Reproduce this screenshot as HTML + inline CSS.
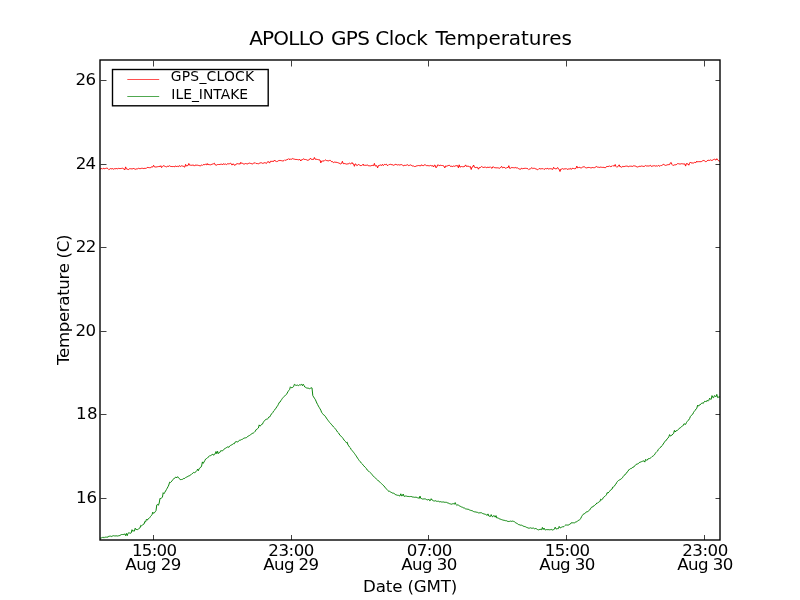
<!DOCTYPE html>
<html><head><meta charset="utf-8"><title>APOLLO GPS Clock Temperatures</title>
<style>
html,body{margin:0;padding:0;background:#fff;}
svg{display:block;}
text{font-family:"DejaVu Sans","Liberation Sans",sans-serif;fill:#000;}
.tk{font-size:16.67px;}
.lg{font-size:13.89px;}
.ti{font-size:20px;}
</style></head><body>
<svg width="800" height="600" viewBox="0 0 800 600">
<rect x="0" y="0" width="800" height="600" fill="#ffffff"/>
<defs><clipPath id="ax"><rect x="100" y="60" width="620" height="480"/></clipPath></defs>

<g clip-path="url(#ax)" fill="none" stroke-linejoin="round" stroke-width="0.95">
<path d="M100 169.0 L100.8 169.0 L101.6 168.2 L102.4 169.2 L103.2 168.4 L104 168.3 L104.8 168.8 L105.6 168.4 L106.4 168.2 L107.2 168.2 L108 168.7 L108.8 169.6 L109.6 169.2 L110.4 168.6 L111.2 168.9 L112 168.6 L112.8 168.7 L113.6 169.2 L114.4 168.7 L115.2 168.8 L116 168.5 L116.8 168.6 L117.6 168.8 L118.4 168.4 L119.2 168.5 L120 168.6 L120.8 168.5 L121.6 168.4 L122.4 168.2 L123.2 168.7 L124 168.9 L124.8 169.9 L125.6 166.9 L126.4 168.9 L127.2 169.1 L128 169.5 L128.8 169.4 L129.6 168.7 L130.4 168.7 L131.2 168.9 L132 168.7 L132.8 169.0 L133.6 168.1 L134.4 169.0 L135.2 169.4 L136 168.9 L136.8 168.9 L137.6 168.8 L138.4 168.3 L139.2 168.5 L140 168.8 L140.8 168.5 L141.6 168.3 L142.4 168.3 L143.2 168.4 L144 168.8 L144.8 168.2 L145.6 168.4 L146.4 168.3 L147.2 167.4 L148 167.5 L148.8 167.6 L149.6 167.7 L150.4 167.8 L151.2 166.9 L152 167.1 L152.8 166.9 L153.6 165.3 L154.4 166.8 L155.2 167.1 L156 166.7 L156.8 167.0 L157.6 166.7 L158.4 166.6 L159.2 166.2 L160 166.9 L160.8 165.7 L161.6 167.6 L162.4 166.5 L163.2 165.7 L164 166.0 L164.8 166.2 L165.6 166.6 L166.4 166.9 L167.2 166.5 L168 165.9 L168.8 166.6 L169.6 165.6 L170.4 166.4 L171.2 166.5 L172 166.5 L172.8 166.6 L173.6 166.5 L174.4 166.9 L175.2 165.9 L176 166.5 L176.8 166.5 L177.6 166.3 L178.4 166.7 L179.2 165.6 L180 166.3 L180.8 166.4 L181.6 165.8 L182.4 166.1 L183.2 165.9 L184 166.9 L184.8 167.1 L185.6 164.4 L186.4 166.0 L187.2 165.7 L188 165.6 L188.8 163.5 L189.6 165.2 L190.4 165.2 L191.2 165.3 L192 165.2 L192.8 165.1 L193.6 165.0 L194.4 166.1 L195.2 165.2 L196 164.9 L196.8 165.3 L197.6 165.2 L198.4 165.4 L199.2 165.6 L200 165.8 L200.8 165.7 L201.6 165.0 L202.4 165.4 L203.2 164.6 L204 164.7 L204.8 164.6 L205.6 164.3 L206.4 164.8 L207.2 163.5 L208 165.0 L208.8 164.3 L209.6 164.7 L210.4 164.8 L211.2 164.7 L212 164.0 L212.8 164.1 L213.6 163.7 L214.4 163.2 L215.2 164.9 L216 164.9 L216.8 165.2 L217.6 164.5 L218.4 164.5 L219.2 164.5 L220 164.5 L220.8 164.2 L221.6 164.0 L222.4 164.9 L223.2 163.8 L224 164.0 L224.8 164.4 L225.6 164.0 L226.4 164.6 L227.2 164.0 L228 163.5 L228.8 164.0 L229.6 163.7 L230.4 163.3 L231.2 163.6 L232 165.1 L232.8 163.9 L233.6 164.0 L234.4 165.3 L235.2 164.8 L236 164.8 L236.8 163.5 L237.6 163.7 L238.4 163.9 L239.2 163.6 L240 164.3 L240.8 162.3 L241.6 163.4 L242.4 163.3 L243.2 163.8 L244 164.1 L244.8 163.9 L245.6 163.5 L246.4 163.7 L247.2 163.9 L248 163.9 L248.8 163.1 L249.6 163.1 L250.4 163.4 L251.2 163.6 L252 163.8 L252.8 163.9 L253.6 163.2 L254.4 163.0 L255.2 162.7 L256 163.6 L256.8 163.5 L257.6 163.6 L258.4 163.8 L259.2 163.4 L260 162.9 L260.8 162.8 L261.6 162.8 L262.4 163.3 L263.2 163.4 L264 162.6 L264.8 162.8 L265.6 162.9 L266.4 163.5 L267.2 162.2 L268 161.5 L268.8 161.9 L269.6 163.1 L270.4 161.3 L271.2 161.3 L272 161.5 L272.8 161.3 L273.6 161.5 L274.4 160.1 L275.2 161.1 L276 160.9 L276.8 161.7 L277.6 161.3 L278.4 160.7 L279.2 160.7 L280 160.1 L280.8 160.7 L281.6 160.7 L282.4 160.9 L283.2 160.9 L284 160.6 L284.8 159.8 L285.6 160.4 L286.4 159.9 L287.2 159.5 L288 159.4 L288.8 158.6 L289.6 159.8 L290.4 159.0 L291.2 159.3 L292 159.0 L292.8 158.5 L293.6 159.0 L294.4 159.2 L295.2 159.3 L296 159.7 L296.8 159.4 L297.6 159.6 L298.4 159.8 L299.2 159.6 L300 159.5 L300.8 161.0 L301.6 159.7 L302.4 159.7 L303.2 158.8 L304 159.2 L304.8 159.5 L305.6 159.5 L306.4 159.7 L307.2 160.3 L308 160.0 L308.8 160.0 L309.6 159.5 L310.4 158.2 L311.2 159.3 L312 159.2 L312.8 159.5 L313.6 159.4 L314.4 157.5 L315.2 159.3 L316 159.1 L316.8 159.4 L317.6 159.5 L318.4 159.7 L319.2 159.8 L320 160.0 L320.8 162.9 L321.6 161.1 L322.4 161.1 L323.2 160.7 L324 161.3 L324.8 160.4 L325.6 159.9 L326.4 160.5 L327.2 160.7 L328 160.7 L328.8 160.9 L329.6 160.4 L330.4 160.4 L331.2 161.4 L332 161.9 L332.8 161.7 L333.6 162.6 L334.4 162.1 L335.2 162.1 L336 162.5 L336.8 162.3 L337.6 162.6 L338.4 162.9 L339.2 163.1 L340 163.8 L340.8 163.9 L341.6 163.4 L342.4 161.3 L343.2 163.6 L344 163.7 L344.8 163.5 L345.6 163.8 L346.4 164.1 L347.2 163.8 L348 164.2 L348.8 163.5 L349.6 163.2 L350.4 163.8 L351.2 163.7 L352 162.5 L352.8 163.9 L353.6 163.9 L354.4 166.3 L355.2 163.9 L356 164.2 L356.8 165.6 L357.6 165.3 L358.4 164.4 L359.2 164.9 L360 165.2 L360.8 165.7 L361.6 165.5 L362.4 165.1 L363.2 164.1 L364 165.7 L364.8 164.9 L365.6 165.4 L366.4 165.3 L367.2 164.9 L368 165.5 L368.8 165.8 L369.6 165.8 L370.4 165.9 L371.2 165.7 L372 165.4 L372.8 165.4 L373.6 165.6 L374.4 163.4 L375.2 166.0 L376 165.8 L376.8 165.7 L377.6 167.9 L378.4 165.6 L379.2 165.5 L380 165.0 L380.8 165.0 L381.6 165.5 L382.4 164.3 L383.2 165.6 L384 164.8 L384.8 164.3 L385.6 164.6 L386.4 164.2 L387.2 165.4 L388 165.5 L388.8 164.6 L389.6 164.5 L390.4 164.3 L391.2 164.6 L392 164.6 L392.8 164.9 L393.6 165.3 L394.4 164.9 L395.2 164.3 L396 164.7 L396.8 164.6 L397.6 165.0 L398.4 164.7 L399.2 165.0 L400 164.9 L400.8 164.7 L401.6 164.6 L402.4 164.9 L403.2 165.8 L404 165.7 L404.8 165.2 L405.6 165.4 L406.4 165.2 L407.2 164.7 L408 165.0 L408.8 165.7 L409.6 165.3 L410.4 164.9 L411.2 165.2 L412 165.9 L412.8 166.0 L413.6 166.0 L414.4 166.5 L415.2 166.5 L416 166.2 L416.8 165.8 L417.6 165.7 L418.4 165.5 L419.2 165.8 L420 165.4 L420.8 166.0 L421.6 164.7 L422.4 165.5 L423.2 165.8 L424 164.9 L424.8 164.9 L425.6 165.0 L426.4 165.6 L427.2 165.4 L428 166.0 L428.8 165.6 L429.6 165.8 L430.4 165.4 L431.2 165.9 L432 165.6 L432.8 165.8 L433.6 167.0 L434.4 165.1 L435.2 165.3 L436 167.8 L436.8 167.0 L437.6 164.9 L438.4 165.1 L439.2 165.7 L440 165.2 L440.8 165.3 L441.6 165.5 L442.4 165.5 L443.2 165.7 L444 166.2 L444.8 167.9 L445.6 165.9 L446.4 166.2 L447.2 166.0 L448 165.6 L448.8 165.4 L449.6 165.3 L450.4 166.4 L451.2 166.2 L452 166.4 L452.8 166.5 L453.6 166.0 L454.4 166.3 L455.2 166.1 L456 165.4 L456.8 165.8 L457.6 165.7 L458.4 167.8 L459.2 164.8 L460 167.2 L460.8 166.7 L461.6 166.5 L462.4 166.7 L463.2 166.7 L464 166.7 L464.8 166.3 L465.6 164.9 L466.4 166.4 L467.2 166.2 L468 166.3 L468.8 166.2 L469.6 167.0 L470.4 166.5 L471.2 169.5 L472 167.1 L472.8 166.8 L473.6 165.0 L474.4 167.2 L475.2 167.7 L476 167.2 L476.8 167.5 L477.6 167.4 L478.4 169.2 L479.2 167.6 L480 167.9 L480.8 167.0 L481.6 166.5 L482.4 167.1 L483.2 167.3 L484 167.7 L484.8 167.0 L485.6 167.0 L486.4 167.8 L487.2 167.2 L488 167.6 L488.8 167.3 L489.6 167.3 L490.4 166.9 L491.2 167.7 L492 168.4 L492.8 166.8 L493.6 166.9 L494.4 167.7 L495.2 167.7 L496 167.9 L496.8 167.8 L497.6 167.8 L498.4 167.9 L499.2 168.3 L500 168.0 L500.8 167.3 L501.6 166.3 L502.4 167.9 L503.2 167.4 L504 167.6 L504.8 167.4 L505.6 168.4 L506.4 168.1 L507.2 167.3 L508 167.8 L508.8 165.7 L509.6 168.3 L510.4 168.3 L511.2 167.6 L512 167.7 L512.8 167.6 L513.6 167.7 L514.4 167.8 L515.2 167.4 L516 168.0 L516.8 167.9 L517.6 167.9 L518.4 168.5 L519.2 169.2 L520 168.7 L520.8 169.3 L521.6 168.2 L522.4 168.7 L523.2 168.5 L524 168.5 L524.8 168.3 L525.6 168.3 L526.4 168.4 L527.2 168.5 L528 168.8 L528.8 169.6 L529.6 169.0 L530.4 168.8 L531.2 168.2 L532 167.6 L532.8 168.7 L533.6 168.3 L534.4 168.3 L535.2 168.6 L536 169.1 L536.8 169.2 L537.6 169.7 L538.4 169.3 L539.2 168.5 L540 168.8 L540.8 168.9 L541.6 168.7 L542.4 168.7 L543.2 168.6 L544 169.5 L544.8 169.0 L545.6 168.5 L546.4 168.8 L547.2 168.3 L548 168.8 L548.8 169.0 L549.6 168.7 L550.4 168.7 L551.2 168.6 L552 169.4 L552.8 169.3 L553.6 167.3 L554.4 168.4 L555.2 168.7 L556 168.8 L556.8 168.6 L557.6 167.5 L558.4 168.9 L559.2 169.3 L560 171.5 L560.8 169.1 L561.6 169.1 L562.4 168.6 L563.2 169.1 L564 169.1 L564.8 168.8 L565.6 168.8 L566.4 168.6 L567.2 169.5 L568 168.9 L568.8 169.0 L569.6 168.9 L570.4 168.4 L571.2 169.5 L572 168.3 L572.8 168.4 L573.6 168.5 L574.4 168.7 L575.2 168.7 L576 168.3 L576.8 166.1 L577.6 167.9 L578.4 167.6 L579.2 167.2 L580 167.8 L580.8 167.8 L581.6 167.8 L582.4 167.2 L583.2 167.0 L584 166.5 L584.8 167.1 L585.6 167.7 L586.4 167.9 L587.2 167.8 L588 167.3 L588.8 167.5 L589.6 167.5 L590.4 167.8 L591.2 167.9 L592 167.6 L592.8 167.5 L593.6 167.7 L594.4 167.7 L595.2 167.4 L596 166.6 L596.8 166.6 L597.6 167.2 L598.4 167.2 L599.2 167.5 L600 167.2 L600.8 167.1 L601.6 167.3 L602.4 167.4 L603.2 167.3 L604 167.5 L604.8 167.6 L605.6 167.7 L606.4 166.6 L607.2 166.5 L608 166.5 L608.8 166.4 L609.6 165.9 L610.4 166.7 L611.2 166.3 L612 166.4 L612.8 165.6 L613.6 165.9 L614.4 166.1 L615.2 164.5 L616 166.5 L616.8 167.3 L617.6 166.6 L618.4 166.2 L619.2 164.8 L620 166.9 L620.8 166.5 L621.6 167.4 L622.4 166.4 L623.2 166.4 L624 166.9 L624.8 166.3 L625.6 166.2 L626.4 166.1 L627.2 166.1 L628 166.5 L628.8 166.7 L629.6 166.2 L630.4 166.2 L631.2 166.1 L632 166.5 L632.8 166.3 L633.6 165.8 L634.4 165.9 L635.2 166.0 L636 166.4 L636.8 166.8 L637.6 167.0 L638.4 166.7 L639.2 166.3 L640 166.4 L640.8 166.3 L641.6 166.0 L642.4 166.2 L643.2 166.3 L644 166.6 L644.8 166.1 L645.6 165.5 L646.4 166.0 L647.2 165.8 L648 166.3 L648.8 165.9 L649.6 165.8 L650.4 165.3 L651.2 166.4 L652 166.1 L652.8 166.0 L653.6 165.8 L654.4 165.7 L655.2 166.1 L656 166.0 L656.8 165.8 L657.6 166.2 L658.4 165.4 L659.2 165.9 L660 166.3 L660.8 165.4 L661.6 165.5 L662.4 165.0 L663.2 164.4 L664 164.5 L664.8 165.1 L665.6 165.4 L666.4 165.2 L667.2 164.8 L668 164.8 L668.8 164.6 L669.6 164.6 L670.4 162.9 L671.2 162.5 L672 164.5 L672.8 165.4 L673.6 165.3 L674.4 164.9 L675.2 164.8 L676 164.8 L676.8 164.3 L677.6 163.6 L678.4 163.7 L679.2 163.9 L680 164.1 L680.8 163.9 L681.6 163.7 L682.4 163.8 L683.2 163.9 L684 164.1 L684.8 163.9 L685.6 166.1 L686.4 163.5 L687.2 163.9 L688 163.8 L688.8 165.2 L689.6 163.3 L690.4 162.0 L691.2 162.9 L692 163.2 L692.8 162.9 L693.6 163.0 L694.4 162.4 L695.2 162.5 L696 162.6 L696.8 161.1 L697.6 162.0 L698.4 161.7 L699.2 161.7 L700 161.6 L700.8 161.7 L701.6 161.5 L702.4 160.9 L703.2 160.5 L704 160.6 L704.8 160.9 L705.6 161.7 L706.4 161.5 L707.2 160.9 L708 160.0 L708.8 160.4 L709.6 160.4 L710.4 159.9 L711.2 160.4 L712 160.3 L712.8 160.1 L713.6 159.5 L714.4 159.2 L715.2 159.6 L716 160.1 L716.8 158.7 L717.6 159.9 L718.4 160.6 L719.2 160.6 L720 161.8" stroke="#ff0000"/>
<path d="M100 538.4 L100.8 538.0 L101.6 537.8 L102.4 537.4 L103.2 537.8 L104 536.9 L104.8 537.7 L105.6 537.1 L106.4 537.2 L107.2 536.9 L108 537.3 L108.8 536.2 L109.6 536.2 L110.4 536.1 L111.2 536.6 L112 536.0 L112.8 536.0 L113.6 535.7 L114.4 535.9 L115.2 536.1 L116 535.5 L116.8 536.0 L117.6 536.0 L118.4 535.8 L119.2 535.8 L120 535.2 L120.8 535.0 L121.6 534.5 L122.4 534.5 L123.2 534.6 L124 534.2 L124.8 534.0 L125.6 535.6 L126.4 533.4 L127.2 535.7 L128 533.3 L128.8 532.8 L129.6 533.0 L130.4 533.3 L131.2 532.9 L132 529.7 L132.8 531.3 L133.6 530.8 L134.4 531.1 L135.2 528.2 L136 529.7 L136.8 529.4 L137.6 529.7 L138.4 528.9 L139.2 528.4 L140 527.9 L140.8 525.3 L141.6 525.8 L142.4 525.1 L143.2 524.5 L144 524.1 L144.8 521.5 L145.6 521.9 L146.4 519.4 L147.2 520.2 L148 518.9 L148.8 518.6 L149.6 517.8 L150.4 516.6 L151.2 515.8 L152 514.7 L152.8 512.1 L153.6 513.4 L154.4 512.8 L155.2 511.8 L156 510.6 L156.8 504.9 L157.6 504.4 L158.4 505.3 L159.2 503.0 L160 498.3 L160.8 498.6 L161.6 497.9 L162.4 497.3 L163.2 492.7 L164 493.7 L164.8 492.3 L165.6 491.0 L166.4 489.6 L167.2 488.2 L168 486.7 L168.8 485.0 L169.6 482.2 L170.4 482.5 L171.2 481.9 L172 480.9 L172.8 479.6 L173.6 479.1 L174.4 478.1 L175.2 477.7 L176 476.9 L176.8 477.9 L177.6 476.7 L178.4 477.4 L179.2 478.6 L180 479.3 L180.8 479.7 L181.6 479.5 L182.4 479.4 L183.2 478.7 L184 478.5 L184.8 478.4 L185.6 477.5 L186.4 477.2 L187.2 476.9 L188 476.1 L188.8 476.0 L189.6 475.8 L190.4 474.9 L191.2 474.6 L192 473.6 L192.8 473.3 L193.6 472.4 L194.4 472.7 L195.2 472.3 L196 471.7 L196.8 470.9 L197.6 469.1 L198.4 470.7 L199.2 468.5 L200 468.0 L200.8 467.3 L201.6 466.0 L202.4 461.9 L203.2 463.4 L204 462.0 L204.8 460.6 L205.6 459.1 L206.4 458.6 L207.2 458.2 L208 457.2 L208.8 456.7 L209.6 455.7 L210.4 455.7 L211.2 455.2 L212 454.7 L212.8 454.2 L213.6 455.3 L214.4 454.0 L215.2 453.9 L216 451.5 L216.8 453.7 L217.6 451.3 L218.4 453.5 L219.2 453.0 L220 452.1 L220.8 450.6 L221.6 450.8 L222.4 451.0 L223.2 450.1 L224 449.2 L224.8 448.6 L225.6 448.2 L226.4 447.8 L227.2 447.0 L228 446.7 L228.8 447.4 L229.6 446.1 L230.4 445.5 L231.2 445.2 L232 444.5 L232.8 444.3 L233.6 443.6 L234.4 443.7 L235.2 442.0 L236 441.6 L236.8 441.7 L237.6 442.1 L238.4 441.1 L239.2 440.5 L240 440.0 L240.8 440.1 L241.6 439.5 L242.4 439.3 L243.2 438.7 L244 438.0 L244.8 438.0 L245.6 437.8 L246.4 437.7 L247.2 436.9 L248 436.1 L248.8 435.9 L249.6 435.4 L250.4 434.8 L251.2 434.1 L252 433.8 L252.8 433.1 L253.6 432.9 L254.4 432.2 L255.2 431.4 L256 429.7 L256.8 429.3 L257.6 428.6 L258.4 428.0 L259.2 424.9 L260 426.1 L260.8 425.5 L261.6 424.4 L262.4 424.2 L263.2 422.6 L264 421.3 L264.8 420.3 L265.6 419.8 L266.4 419.0 L267.2 419.4 L268 418.3 L268.8 417.1 L269.6 417.0 L270.4 415.8 L271.2 414.2 L272 413.6 L272.8 412.5 L273.6 411.1 L274.4 410.4 L275.2 409.0 L276 408.2 L276.8 406.8 L277.6 405.8 L278.4 404.3 L279.2 402.5 L280 402.2 L280.8 400.7 L281.6 399.6 L282.4 398.4 L283.2 397.5 L284 396.7 L284.8 395.8 L285.6 395.0 L286.4 394.5 L287.2 393.1 L288 391.6 L288.8 390.4 L289.6 389.5 L290.4 386.8 L291.2 387.6 L292 387.8 L292.8 387.2 L293.6 386.6 L294.4 384.3 L295.2 385.0 L296 385.2 L296.8 385.4 L297.6 385.1 L298.4 385.7 L299.2 384.9 L300 384.8 L300.8 385.0 L301.6 384.3 L302.4 385.7 L303.2 384.2 L304 385.5 L304.8 387.0 L305.6 387.4 L306.4 387.9 L307.2 388.0 L308 388.3 L308.8 388.1 L309.6 388.9 L310.4 388.3 L311.2 387.8 L312 387.9 L312.8 395.6 L313.6 396.9 L314.4 398.2 L315.2 399.3 L316 401.1 L316.8 403.0 L317.6 404.5 L318.4 406.1 L319.2 407.4 L320 408.8 L320.8 410.2 L321.6 412.3 L322.4 413.4 L323.2 414.5 L324 415.0 L324.8 415.7 L325.6 416.8 L326.4 418.1 L327.2 419.2 L328 420.3 L328.8 421.4 L329.6 422.5 L330.4 423.2 L331.2 424.2 L332 425.1 L332.8 426.0 L333.6 427.0 L334.4 427.7 L335.2 428.7 L336 429.7 L336.8 430.9 L337.6 432.1 L338.4 432.8 L339.2 434.0 L340 435.4 L340.8 435.9 L341.6 436.7 L342.4 437.6 L343.2 438.7 L344 440.0 L344.8 440.9 L345.6 441.6 L346.4 442.8 L347.2 442.2 L348 445.0 L348.8 445.9 L349.6 447.2 L350.4 447.9 L351.2 449.5 L352 450.4 L352.8 451.4 L353.6 452.4 L354.4 453.4 L355.2 454.5 L356 455.7 L356.8 456.9 L357.6 458.2 L358.4 459.3 L359.2 460.5 L360 461.6 L360.8 462.2 L361.6 463.4 L362.4 464.1 L363.2 465.2 L364 466.0 L364.8 467.0 L365.6 467.6 L366.4 468.6 L367.2 470.0 L368 470.7 L368.8 471.3 L369.6 472.1 L370.4 472.7 L371.2 473.4 L372 474.5 L372.8 475.7 L373.6 476.3 L374.4 477.2 L375.2 477.9 L376 478.6 L376.8 479.3 L377.6 480.0 L378.4 480.9 L379.2 481.3 L380 482.3 L380.8 483.1 L381.6 483.7 L382.4 484.5 L383.2 485.2 L384 486.0 L384.8 487.1 L385.6 488.0 L386.4 488.9 L387.2 489.8 L388 490.7 L388.8 491.4 L389.6 491.3 L390.4 491.9 L391.2 492.3 L392 492.8 L392.8 493.2 L393.6 493.0 L394.4 493.9 L395.2 494.4 L396 494.9 L396.8 495.0 L397.6 495.3 L398.4 495.3 L399.2 495.8 L400 495.9 L400.8 493.8 L401.6 495.9 L402.4 495.7 L403.2 494.0 L404 496.3 L404.8 496.3 L405.6 496.0 L406.4 496.1 L407.2 496.4 L408 496.4 L408.8 496.5 L409.6 496.6 L410.4 496.5 L411.2 496.6 L412 496.5 L412.8 497.2 L413.6 497.1 L414.4 497.3 L415.2 497.1 L416 497.5 L416.8 497.3 L417.6 497.8 L418.4 497.9 L419.2 498.5 L420 496.1 L420.8 498.4 L421.6 498.6 L422.4 499.0 L423.2 498.9 L424 499.1 L424.8 498.8 L425.6 499.0 L426.4 499.5 L427.2 499.9 L428 499.9 L428.8 499.1 L429.6 500.7 L430.4 500.5 L431.2 498.7 L432 500.1 L432.8 500.3 L433.6 500.9 L434.4 501.0 L435.2 500.7 L436 500.9 L436.8 501.4 L437.6 501.3 L438.4 501.2 L439.2 501.8 L440 501.7 L440.8 501.7 L441.6 502.0 L442.4 502.0 L443.2 501.9 L444 502.2 L444.8 502.3 L445.6 502.3 L446.4 502.3 L447.2 502.8 L448 502.9 L448.8 503.3 L449.6 503.7 L450.4 503.9 L451.2 504.2 L452 504.1 L452.8 503.7 L453.6 503.7 L454.4 504.2 L455.2 502.6 L456 504.4 L456.8 505.5 L457.6 504.8 L458.4 505.1 L459.2 505.8 L460 506.0 L460.8 506.6 L461.6 507.0 L462.4 507.2 L463.2 507.8 L464 507.9 L464.8 508.2 L465.6 508.9 L466.4 509.0 L467.2 509.1 L468 509.4 L468.8 509.4 L469.6 510.0 L470.4 510.3 L471.2 510.5 L472 510.7 L472.8 511.0 L473.6 511.6 L474.4 511.8 L475.2 511.8 L476 512.2 L476.8 512.2 L477.6 512.4 L478.4 512.9 L479.2 512.8 L480 512.9 L480.8 512.7 L481.6 512.8 L482.4 513.4 L483.2 513.6 L484 514.1 L484.8 514.1 L485.6 514.4 L486.4 514.9 L487.2 515.4 L488 513.9 L488.8 516.0 L489.6 516.3 L490.4 516.5 L491.2 514.6 L492 516.5 L492.8 516.8 L493.6 515.6 L494.4 515.8 L495.2 517.2 L496 515.6 L496.8 518.0 L497.6 517.9 L498.4 518.2 L499.2 518.8 L500 518.8 L500.8 519.4 L501.6 519.6 L502.4 519.9 L503.2 520.1 L504 520.4 L504.8 520.4 L505.6 520.7 L506.4 520.7 L507.2 521.1 L508 521.6 L508.8 521.4 L509.6 521.4 L510.4 521.1 L511.2 521.4 L512 521.2 L512.8 521.1 L513.6 521.4 L514.4 521.7 L515.2 522.4 L516 523.1 L516.8 523.3 L517.6 523.8 L518.4 524.5 L519.2 524.7 L520 524.9 L520.8 525.3 L521.6 525.2 L522.4 525.6 L523.2 526.0 L524 526.6 L524.8 526.5 L525.6 526.8 L526.4 527.3 L527.2 527.6 L528 527.9 L528.8 528.2 L529.6 528.1 L530.4 527.8 L531.2 528.2 L532 528.2 L532.8 528.2 L533.6 528.1 L534.4 528.8 L535.2 528.5 L536 528.6 L536.8 529.0 L537.6 529.6 L538.4 529.9 L539.2 529.5 L540 529.6 L540.8 529.3 L541.6 529.7 L542.4 527.4 L543.2 529.5 L544 528.0 L544.8 529.7 L545.6 529.9 L546.4 529.6 L547.2 529.6 L548 529.8 L548.8 529.6 L549.6 529.8 L550.4 529.7 L551.2 529.3 L552 530.1 L552.8 529.9 L553.6 529.6 L554.4 529.2 L555.2 527.2 L556 528.9 L556.8 528.9 L557.6 528.6 L558.4 528.6 L559.2 526.4 L560 527.9 L560.8 527.7 L561.6 527.2 L562.4 526.8 L563.2 526.8 L564 526.5 L564.8 525.7 L565.6 525.0 L566.4 525.0 L567.2 525.2 L568 524.8 L568.8 525.1 L569.6 524.2 L570.4 524.0 L571.2 522.8 L572 522.8 L572.8 522.8 L573.6 522.8 L574.4 522.9 L575.2 522.2 L576 522.1 L576.8 521.6 L577.6 521.2 L578.4 520.3 L579.2 520.3 L580 519.3 L580.8 518.3 L581.6 516.6 L582.4 515.4 L583.2 514.3 L584 513.8 L584.8 513.5 L585.6 512.9 L586.4 511.8 L587.2 511.9 L588 511.2 L588.8 510.8 L589.6 510.1 L590.4 508.9 L591.2 507.6 L592 506.9 L592.8 507.0 L593.6 505.8 L594.4 505.6 L595.2 504.7 L596 504.3 L596.8 503.0 L597.6 503.1 L598.4 502.3 L599.2 502.0 L600 501.2 L600.8 499.1 L601.6 499.8 L602.4 499.3 L603.2 497.8 L604 496.8 L604.8 496.5 L605.6 495.7 L606.4 494.8 L607.2 492.6 L608 493.2 L608.8 492.0 L609.6 491.4 L610.4 490.2 L611.2 489.5 L612 489.2 L612.8 487.0 L613.6 486.8 L614.4 486.2 L615.2 484.7 L616 484.0 L616.8 482.3 L617.6 481.3 L618.4 480.6 L619.2 480.0 L620 479.8 L620.8 479.1 L621.6 478.6 L622.4 477.8 L623.2 476.5 L624 475.4 L624.8 475.0 L625.6 474.0 L626.4 473.1 L627.2 471.9 L628 471.3 L628.8 469.7 L629.6 469.4 L630.4 468.7 L631.2 468.6 L632 467.9 L632.8 467.3 L633.6 467.2 L634.4 466.0 L635.2 465.6 L636 464.4 L636.8 464.2 L637.6 463.9 L638.4 463.6 L639.2 462.6 L640 462.2 L640.8 462.0 L641.6 461.6 L642.4 461.3 L643.2 461.1 L644 460.8 L644.8 462.1 L645.6 459.4 L646.4 460.2 L647.2 460.2 L648 458.8 L648.8 458.7 L649.6 458.5 L650.4 458.1 L651.2 457.5 L652 456.6 L652.8 456.2 L653.6 455.6 L654.4 454.9 L655.2 453.6 L656 452.4 L656.8 451.6 L657.6 451.0 L658.4 449.4 L659.2 448.6 L660 447.6 L660.8 447.2 L661.6 446.0 L662.4 445.4 L663.2 444.0 L664 442.9 L664.8 441.4 L665.6 441.0 L666.4 440.0 L667.2 438.8 L668 438.1 L668.8 436.8 L669.6 434.6 L670.4 436.1 L671.2 435.5 L672 435.2 L672.8 434.0 L673.6 433.5 L674.4 430.4 L675.2 432.0 L676 430.7 L676.8 430.8 L677.6 430.0 L678.4 429.5 L679.2 428.4 L680 428.0 L680.8 427.4 L681.6 426.7 L682.4 425.9 L683.2 425.6 L684 423.7 L684.8 424.2 L685.6 424.4 L686.4 422.7 L687.2 421.5 L688 420.4 L688.8 419.9 L689.6 418.5 L690.4 416.5 L691.2 415.5 L692 414.8 L692.8 414.1 L693.6 412.3 L694.4 411.2 L695.2 410.3 L696 409.0 L696.8 408.3 L697.6 405.2 L698.4 406.2 L699.2 405.0 L700 405.0 L700.8 404.1 L701.6 403.2 L702.4 403.0 L703.2 403.5 L704 402.0 L704.8 401.2 L705.6 401.5 L706.4 401.6 L707.2 400.2 L708 401.2 L708.8 400.4 L709.6 398.2 L710.4 399.2 L711.2 399.3 L712 395.6 L712.8 397.5 L713.6 397.7 L714.4 395.6 L715.2 396.2 L716 396.7 L716.8 394.4 L717.6 397.6 L718.4 397.1 L719.2 397.4 L720 396.2" stroke="#008000"/>
</g>
<g stroke="#000" stroke-width="0.75" fill="none">
<path d="M153.5 540.00 V535.00 M153.5 60.70 V66.50"/>
<path d="M291.5 540.00 V535.00 M291.5 60.70 V66.50"/>
<path d="M428.5 540.00 V535.00 M428.5 60.70 V66.50"/>
<path d="M566.5 540.00 V535.00 M566.5 60.70 V66.50"/>
<path d="M704.5 540.00 V535.00 M704.5 60.70 V66.50"/>
<path d="M100.70 498.5 H106.50 M720.00 498.5 H715.50"/>
<path d="M100.70 414.5 H106.50 M720.00 414.5 H715.50"/>
<path d="M100.70 331.5 H106.50 M720.00 331.5 H715.50"/>
<path d="M100.70 247.5 H106.50 M720.00 247.5 H715.50"/>
<path d="M100.70 164.5 H106.50 M720.00 164.5 H715.50"/>
<path d="M100.70 80.5 H106.50 M720.00 80.5 H715.50"/>
</g>
<rect x="100.0" y="60.0" width="620.0" height="480.0" fill="none" stroke="#000" stroke-width="1.39"/>
<text class="tk" y="555.5"><tspan x="132.00" letter-spacing="-0.750">15:00</tspan></text>
<text class="tk" y="569.9"><tspan x="125.35" letter-spacing="-0.590">Aug 29</tspan></text>
<text class="tk" y="555.5"><tspan x="268.35" letter-spacing="-0.488">23:00</tspan></text>
<text class="tk" y="569.9"><tspan x="263.25" letter-spacing="-0.630">Aug 29</tspan></text>
<text class="tk" y="555.5"><tspan x="406.75" letter-spacing="-0.625">07:00</tspan></text>
<text class="tk" y="569.9"><tspan x="401.25" letter-spacing="-0.600">Aug 30</tspan></text>
<text class="tk" y="555.5"><tspan x="544.85" letter-spacing="-0.713">15:00</tspan></text>
<text class="tk" y="569.9"><tspan x="539.35" letter-spacing="-0.590">Aug 30</tspan></text>
<text class="tk" y="555.5"><tspan x="682.25" letter-spacing="-0.500">23:00</tspan></text>
<text class="tk" y="569.9"><tspan x="677.25" letter-spacing="-0.600">Aug 30</tspan></text>
<text class="tk" y="502.80"><tspan x="76.05" letter-spacing="-0.150">16</tspan></text>
<text class="tk" y="418.80"><tspan x="76.05" letter-spacing="0.350">18</tspan></text>
<text class="tk" y="335.80"><tspan x="75.40" letter-spacing="-0.400">20</tspan></text>
<text class="tk" y="251.80"><tspan x="75.65" letter-spacing="-0.450">22</tspan></text>
<text class="tk" y="168.80"><tspan x="75.65" letter-spacing="-0.700">24</tspan></text>
<text class="tk" y="84.80"><tspan x="75.40" letter-spacing="-0.550">26</tspan></text>
<text class="ti" y="44.8"><tspan x="249.15" letter-spacing="-0.760">APOLLO</tspan> <tspan x="330.90" letter-spacing="-0.575">GPS</tspan> <tspan x="375.25" letter-spacing="-0.438">Clock</tspan> <tspan x="435.40" letter-spacing="-0.059">Temperatures</tspan></text>
<text class="tk" y="591.6"><tspan x="363.05" letter-spacing="-0.139">Date (GMT)</tspan></text>
<text class="tk" transform="rotate(-90)" y="69.1"><tspan x="-365.00" letter-spacing="-0.357">Temperature (C)</tspan></text>
<rect x="112.5" y="69.5" width="155.7" height="36.3" fill="#fff" stroke="#000" stroke-width="1.39"/>
<path d="M127.3 79.5 H159.2" stroke="#ff0000" stroke-width="0.69" fill="none"/>
<path d="M127.3 96.5 H159.2" stroke="#008000" stroke-width="0.69" fill="none"/>
<text class="lg" y="80.8"><tspan x="170.75" letter-spacing="0.238">GPS_CLOCK</tspan></text>
<text class="lg" y="98.7"><tspan x="171.35" letter-spacing="-0.011">ILE_INTAKE</tspan></text>
</svg></body></html>
